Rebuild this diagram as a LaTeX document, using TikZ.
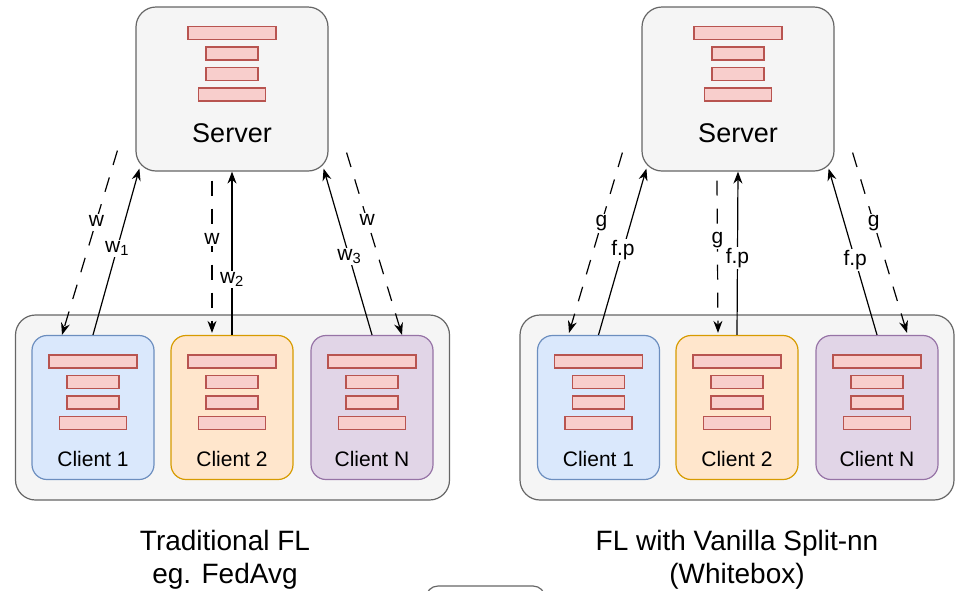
\documentclass[tikz,border=0pt]{standalone}
\usepackage{fontspec}
\setmainfont{Liberation Sans}
\usetikzlibrary{arrows.meta}

% draw.io palette
\definecolor{boxfill}{HTML}{F5F5F5}
\definecolor{boxline}{HTML}{666666}
\definecolor{bluefill}{HTML}{DAE8FC}
\definecolor{blueline}{HTML}{6C8EBF}
\definecolor{orangefill}{HTML}{FFE6CC}
\definecolor{orangeline}{HTML}{D79B00}
\definecolor{purplefill}{HTML}{E1D5E7}
\definecolor{purpleline}{HTML}{9673A6}
\definecolor{layerfill}{HTML}{F8CECC}
\definecolor{layerline}{HTML}{B85450}

\begin{document}
\begin{tikzpicture}[x=1pt, y=-1pt, >={Stealth[length=12pt,width=9pt]},
  box/.style={draw=boxline, fill=boxfill, line width=1.2pt, inner sep=0pt},
  server/.style={box, rounded corners=20pt, minimum width=192pt,
    text height=135pt, text depth=29pt, font=\fontsize{27}{32}\selectfont},
  group/.style={box, rounded corners=20pt, minimum width=434pt, minimum height=185pt},
  client/.style={line width=1.2pt, inner sep=0pt, rounded corners=15pt, minimum width=122pt,
    text height=131pt, text depth=13pt, font=\fontsize{21}{25}\selectfont},
  clientblue/.style={client, draw=blueline, fill=bluefill},
  clientorange/.style={client, draw=orangeline, fill=orangefill},
  clientpurple/.style={client, draw=purpleline, fill=purplefill},
  layer/.style={draw=layerline, fill=layerfill, line width=1.2pt, inner sep=0pt, minimum height=13pt},
  layers/.pic={
    \node[layer, minimum width=88pt] at (0,0) {};
    \node[layer, minimum width=52pt] at (0,20.5) {};
    \node[layer, minimum width=52pt] at (0,41) {};
    \node[layer, minimum width=67pt] at (0,61.5) {};
  },
  upd/.style={->, line width=1.2pt},
  bcast/.style={->, line width=1.2pt, dash pattern=on 15pt off 13pt},
  lbl/.style={fill=white, inner sep=1.5pt, font=\fontsize{21}{25}\selectfont},
  title/.style={align=center, anchor=base, font=\fontsize{28}{33}\selectfont},
]
\useasboundingbox (0,0) rectangle (956,590);

% Servers
\node[server] (srvA) at (232,89) {Server};
\node[server] (srvB) at (738,89) {Server};

% Client groups
\node[group] (grpA) at (232.5,407.5) {};
\node[group] (grpB) at (737,407.5) {};

\node[clientblue]   (cA1) at (93,407.5)  {Client 1};
\node[clientorange] (cA2) at (232,407.5) {Client 2};
\node[clientpurple] (cA3) at (372,407.5) {Client N};

\node[clientblue]   (cB1) at (598.5,407.5) {Client 1};
\node[clientorange] (cB2) at (737,407.5)   {Client 2};
\node[clientpurple] (cB3) at (877,407.5)   {Client N};

% model layers in every box
\foreach \n in {srvA,srvB,cA1,cA2,cA3,cB1,cB2,cB3}
  \pic at ([yshift=-26.5pt]\n.north) {layers};

% Traditional FL: weights down, local weights up
\draw[bcast] ([shift={(-18,-21)}]srvA.south west) -- node[lbl, pos=0.38] {w} ([xshift=-31pt]cA1.north);
\draw[bcast] ([shift={(-20,9)}]srvA.south) -- node[lbl, pos=0.38] {w} ([shift={(-20,-2)}]cA2.north);
\draw[bcast] ([shift={(18,-19)}]srvA.south east) -- node[lbl, pos=0.37] {w} ([xshift=30pt]cA3.north);

\draw[upd] (cA1.north) -- node[lbl, pos=0.52] {w\textsubscript{1}} ([shift={(4,-3)}]srvA.south west);
\draw[upd] (cA2.north) -- node[lbl, pos=0.34] {w\textsubscript{2}} (srvA.south);
\draw[upd] (cA3.north) -- node[lbl, pos=0.47] {w\textsubscript{3}} ([shift={(-5,-3)}]srvA.south east);

% Split-nn: gradients down, forward pass up
\draw[bcast] ([shift={(-19,-19)}]srvB.south west) -- node[lbl, pos=0.39] {g} ([shift={(-29.5,-2)}]cB1.north);
\draw[bcast] ([shift={(-21,9)}]srvB.south) -- node[lbl, pos=0.39] {g} ([shift={(-19,-2)}]cB2.north);
\draw[bcast] ([shift={(18,-19)}]srvB.south east) -- node[lbl, pos=0.39] {g} ([shift={(30,-2)}]cB3.north);

\draw[upd] (cB1.north) -- node[lbl, pos=0.51] {f.p} ([shift={(5,-3)}]srvB.south west);
\draw[upd] (cB2.north) -- node[lbl, pos=0.47] {f.p} (srvB.south);
\draw[upd] (cB3.north) -- node[lbl, pos=0.45] {f.p} ([shift={(-6,-3)}]srvB.south east);

% Titles (base is the last line)
\node[title] (ttlA) at (225,583) {Traditional FL\\eg. FedAvg};
\node[title] (ttlB) at (737,583) {FL with Vanilla Split-nn\\(Whitebox)};

% box cut off at the lower edge
\begin{scope}
  \clip (0,0) rectangle (956,590);
  \draw[draw=boxline, line width=1.2pt, fill=white, rounded corners=12pt] (426,586) rectangle (545,630);
\end{scope}
\end{tikzpicture}
\end{document}
